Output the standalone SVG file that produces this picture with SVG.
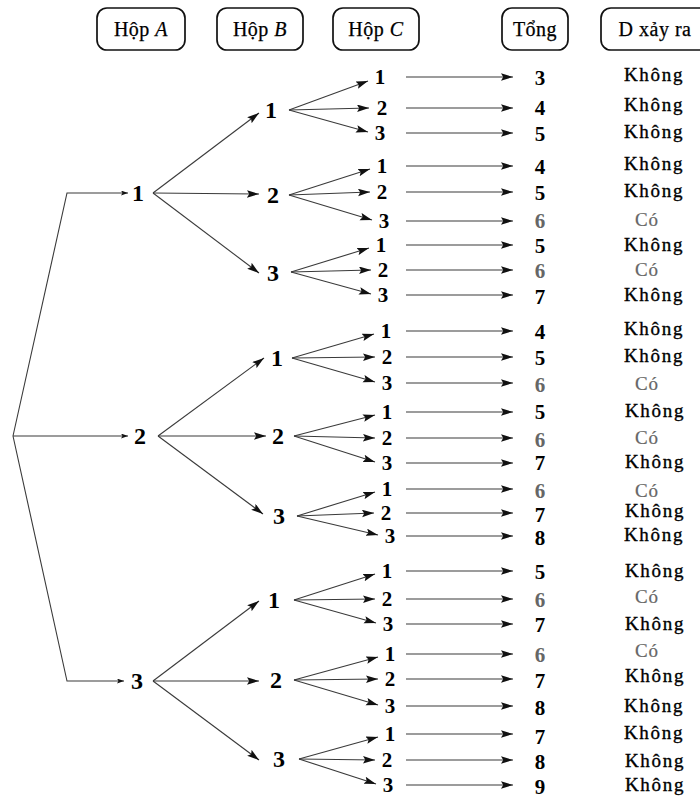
<svg xmlns="http://www.w3.org/2000/svg" width="700" height="798" viewBox="0 0 700 798">
  <defs>
    <marker id="arr" markerUnits="userSpaceOnUse" markerWidth="13" markerHeight="8" refX="12" refY="3.75" orient="auto">
      <path d="M0,0 L12,3.75 L0,7.5 L2.2,3.75 Z" fill="#111"/>
    </marker>
    <marker id="arrS" markerUnits="userSpaceOnUse" markerWidth="8" markerHeight="6" refX="7" refY="2.5" orient="auto">
      <path d="M0,0 L7,2.5 L0,5 L1.5,2.5 Z" fill="#111"/>
    </marker>
  </defs>
  <style>
    text { font-family: "Liberation Serif", "Times New Roman", serif; text-anchor: middle; fill: #000; }
    .box { fill: #fff; stroke: #111; stroke-width: 1.7; }
    .hd { font-size: 20px; letter-spacing: 0.5px; stroke: #000; stroke-width: 0.25; }
    .big { font-size: 24px; font-weight: bold; }
    .dig { font-size: 21px; font-weight: bold; }
    .gr { fill: #666; }
    .kh { font-size: 19px; letter-spacing: 1.7px; stroke: #000; stroke-width: 0.35; }
    .co { font-size: 19px; fill: #666; letter-spacing: 0.8px; stroke: #666; stroke-width: 0.2; }
    .ln { stroke: #3a3a3a; stroke-width: 1.1; fill: none; }
    .a { marker-end: url(#arr); }
    .s { marker-end: url(#arrS); }
  </style>
  <rect width="700" height="798" fill="#fff"/>

  <!-- column headers -->
  <g id="header-a"><rect class="box" x="97" y="8" width="88" height="42" rx="10"/><text class="hd" x="141" y="36">Hộp <tspan font-style="italic">A</tspan></text></g>
  <g id="header-b"><rect class="box" x="217" y="8" width="86" height="42" rx="10"/><text class="hd" x="260" y="36">Hộp <tspan font-style="italic">B</tspan></text></g>
  <g id="header-c"><rect class="box" x="333" y="8" width="86" height="42" rx="10"/><text class="hd" x="376" y="36">Hộp <tspan font-style="italic">C</tspan></text></g>
  <g id="header-sum"><rect class="box" x="502" y="8" width="66" height="42" rx="10"/><text class="hd" x="535" y="36">Tổng</text></g>
  <g id="header-event"><rect class="box" x="601" y="8" width="120" height="42" rx="10"/><text class="hd" x="655" y="36">D xảy ra</text></g>

  <!-- connectors -->
  <g id="connectors" class="ln">
    <!-- root to box A -->
    <polyline class="s" points="13,436 67,193 128,193"/>
    <line class="s" x1="13" y1="436" x2="128" y2="436"/>
    <polyline class="s" points="13,436 67,681 124,681"/>
    <!-- box A to box B -->
    <line class="a" x1="153" y1="193" x2="259" y2="113"/>
    <line class="a" x1="153" y1="193" x2="259" y2="194"/>
    <line class="a" x1="153" y1="193" x2="259" y2="273"/>
    <line class="a" x1="158" y1="436" x2="264" y2="358"/>
    <line class="a" x1="158" y1="436" x2="266" y2="436"/>
    <line class="a" x1="158" y1="436" x2="263" y2="514"/>
    <line class="a" x1="153" y1="681" x2="259" y2="601"/>
    <line class="a" x1="153" y1="681" x2="259" y2="681"/>
    <line class="a" x1="153" y1="681" x2="259" y2="760"/>
    <!-- box B to box C -->
    <line class="a" x1="289" y1="110" x2="368" y2="81"/>
    <line class="a" x1="289" y1="110" x2="369" y2="108"/>
    <line class="a" x1="289" y1="110" x2="368" y2="132"/>
    <line class="a" x1="289" y1="195" x2="370" y2="169"/>
    <line class="a" x1="289" y1="195" x2="370" y2="192"/>
    <line class="a" x1="289" y1="195" x2="372" y2="220"/>
    <line class="a" x1="291" y1="272" x2="369" y2="248"/>
    <line class="a" x1="291" y1="272" x2="371" y2="270"/>
    <line class="a" x1="291" y1="272" x2="371" y2="294"/>
    <line class="a" x1="292" y1="358" x2="374" y2="334"/>
    <line class="a" x1="292" y1="358" x2="375" y2="357"/>
    <line class="a" x1="292" y1="358" x2="375" y2="382"/>
    <line class="a" x1="294" y1="436" x2="375" y2="415"/>
    <line class="a" x1="294" y1="436" x2="375" y2="438"/>
    <line class="a" x1="294" y1="436" x2="375" y2="462"/>
    <line class="a" x1="297" y1="516" x2="375" y2="492"/>
    <line class="a" x1="297" y1="516" x2="374" y2="513"/>
    <line class="a" x1="297" y1="516" x2="378" y2="535"/>
    <line class="a" x1="294" y1="600" x2="375" y2="574"/>
    <line class="a" x1="294" y1="600" x2="375" y2="599"/>
    <line class="a" x1="294" y1="600" x2="376" y2="623"/>
    <line class="a" x1="294" y1="680" x2="378" y2="657"/>
    <line class="a" x1="294" y1="680" x2="378" y2="679"/>
    <line class="a" x1="294" y1="680" x2="378" y2="705"/>
    <line class="a" x1="299" y1="759" x2="378" y2="737"/>
    <line class="a" x1="299" y1="759" x2="375" y2="760"/>
    <line class="a" x1="299" y1="759" x2="376" y2="784"/>
    <!-- box C to sum -->
    <line class="a" x1="406" y1="77" x2="513" y2="77"/>
    <line class="a" x1="406" y1="108" x2="513" y2="108"/>
    <line class="a" x1="406" y1="133" x2="513" y2="133"/>
    <line class="a" x1="406" y1="166" x2="513" y2="166"/>
    <line class="a" x1="406" y1="192" x2="513" y2="192"/>
    <line class="a" x1="406" y1="221" x2="513" y2="221"/>
    <line class="a" x1="406" y1="245" x2="513" y2="245"/>
    <line class="a" x1="406" y1="270" x2="513" y2="270"/>
    <line class="a" x1="406" y1="295" x2="513" y2="295"/>
    <line class="a" x1="406" y1="331" x2="513" y2="331"/>
    <line class="a" x1="406" y1="357" x2="513" y2="357"/>
    <line class="a" x1="406" y1="383" x2="513" y2="383"/>
    <line class="a" x1="406" y1="412" x2="513" y2="412"/>
    <line class="a" x1="406" y1="438" x2="513" y2="438"/>
    <line class="a" x1="406" y1="463" x2="513" y2="463"/>
    <line class="a" x1="406" y1="489" x2="513" y2="489"/>
    <line class="a" x1="406" y1="513" x2="513" y2="513"/>
    <line class="a" x1="406" y1="536" x2="513" y2="536"/>
    <line class="a" x1="406" y1="571" x2="513" y2="571"/>
    <line class="a" x1="406" y1="599" x2="513" y2="599"/>
    <line class="a" x1="406" y1="624" x2="513" y2="624"/>
    <line class="a" x1="406" y1="654" x2="513" y2="654"/>
    <line class="a" x1="406" y1="679" x2="513" y2="679"/>
    <line class="a" x1="406" y1="706" x2="513" y2="706"/>
    <line class="a" x1="406" y1="734" x2="513" y2="734"/>
    <line class="a" x1="406" y1="760" x2="513" y2="760"/>
    <line class="a" x1="406" y1="785" x2="513" y2="785"/>
  </g>

  <!-- box A outcomes -->
  <g id="a1"><text class="big" x="138" y="201">1</text></g>
  <g id="a2"><text class="big" x="140" y="444">2</text></g>
  <g id="a3"><text class="big" x="137" y="689">3</text></g>

  <!-- box B outcomes -->
  <g id="a1-b1"><text class="big" x="271" y="118">1</text></g>
  <g id="a1-b2"><text class="big" x="273" y="203">2</text></g>
  <g id="a1-b3"><text class="big" x="273" y="281">3</text></g>
  <g id="a2-b1"><text class="big" x="277" y="366">1</text></g>
  <g id="a2-b2"><text class="big" x="278" y="444">2</text></g>
  <g id="a2-b3"><text class="big" x="279" y="524">3</text></g>
  <g id="a3-b1"><text class="big" x="274" y="608">1</text></g>
  <g id="a3-b2"><text class="big" x="276" y="688">2</text></g>
  <g id="a3-b3"><text class="big" x="279" y="767">3</text></g>

  <!-- box C outcomes, sums and event column -->
  <g id="r1"><text class="dig" x="380" y="84">1</text><text class="dig" x="540" y="85">3</text><text class="kh" x="654" y="81">Không</text></g>
  <g id="r2"><text class="dig" x="382" y="115">2</text><text class="dig" x="540" y="115">4</text><text class="kh" x="654" y="111">Không</text></g>
  <g id="r3"><text class="dig" x="380" y="140">3</text><text class="dig" x="540" y="141">5</text><text class="kh" x="654" y="138">Không</text></g>
  <g id="r4"><text class="dig" x="382" y="173">1</text><text class="dig" x="540" y="174">4</text><text class="kh" x="654" y="170">Không</text></g>
  <g id="r5"><text class="dig" x="382" y="199">2</text><text class="dig" x="540" y="200">5</text><text class="kh" x="654" y="197">Không</text></g>
  <g id="r6"><text class="dig" x="384" y="228">3</text><text class="dig gr" x="540" y="228">6</text><text class="co" x="647" y="226">Có</text></g>
  <g id="r7"><text class="dig" x="381" y="252">1</text><text class="dig" x="540" y="253">5</text><text class="kh" x="654" y="251">Không</text></g>
  <g id="r8"><text class="dig" x="383" y="277">2</text><text class="dig gr" x="540" y="278">6</text><text class="co" x="647" y="276">Có</text></g>
  <g id="r9"><text class="dig" x="383" y="302">3</text><text class="dig" x="540" y="304">7</text><text class="kh" x="654" y="301">Không</text></g>
  <g id="r10"><text class="dig" x="386" y="338">1</text><text class="dig" x="540" y="339">4</text><text class="kh" x="654" y="335">Không</text></g>
  <g id="r11"><text class="dig" x="387" y="364">2</text><text class="dig" x="540" y="365">5</text><text class="kh" x="654" y="362">Không</text></g>
  <g id="r12"><text class="dig" x="387" y="390">3</text><text class="dig gr" x="540" y="392">6</text><text class="co" x="647" y="390">Có</text></g>
  <g id="r13"><text class="dig" x="387" y="419">1</text><text class="dig" x="540" y="419">5</text><text class="kh" x="655" y="417">Không</text></g>
  <g id="r14"><text class="dig" x="387" y="445">2</text><text class="dig gr" x="540" y="447">6</text><text class="co" x="647" y="444">Có</text></g>
  <g id="r15"><text class="dig" x="387" y="470">3</text><text class="dig" x="540" y="470">7</text><text class="kh" x="655" y="468">Không</text></g>
  <g id="r16"><text class="dig" x="387" y="496">1</text><text class="dig gr" x="540" y="498">6</text><text class="co" x="647" y="497">Có</text></g>
  <g id="r17"><text class="dig" x="386" y="520">2</text><text class="dig" x="540" y="522">7</text><text class="kh" x="655" y="517">Không</text></g>
  <g id="r18"><text class="dig" x="390" y="543">3</text><text class="dig" x="540" y="545">8</text><text class="kh" x="654" y="541">Không</text></g>
  <g id="r19"><text class="dig" x="387" y="578">1</text><text class="dig" x="540" y="579">5</text><text class="kh" x="655" y="577">Không</text></g>
  <g id="r20"><text class="dig" x="387" y="606">2</text><text class="dig gr" x="540" y="607">6</text><text class="co" x="647" y="603">Có</text></g>
  <g id="r21"><text class="dig" x="388" y="631">3</text><text class="dig" x="540" y="632">7</text><text class="kh" x="655" y="630">Không</text></g>
  <g id="r22"><text class="dig" x="390" y="661">1</text><text class="dig gr" x="540" y="662">6</text><text class="co" x="647" y="657">Có</text></g>
  <g id="r23"><text class="dig" x="390" y="686">2</text><text class="dig" x="540" y="688">7</text><text class="kh" x="655" y="682">Không</text></g>
  <g id="r24"><text class="dig" x="390" y="713">3</text><text class="dig" x="540" y="715">8</text><text class="kh" x="654" y="712">Không</text></g>
  <g id="r25"><text class="dig" x="390" y="741">1</text><text class="dig" x="540" y="744">7</text><text class="kh" x="654" y="739">Không</text></g>
  <g id="r26"><text class="dig" x="387" y="767">2</text><text class="dig" x="540" y="769">8</text><text class="kh" x="655" y="767">Không</text></g>
  <g id="r27"><text class="dig" x="388" y="792">3</text><text class="dig" x="540" y="794">9</text><text class="kh" x="655" y="791">Không</text></g>
</svg>
